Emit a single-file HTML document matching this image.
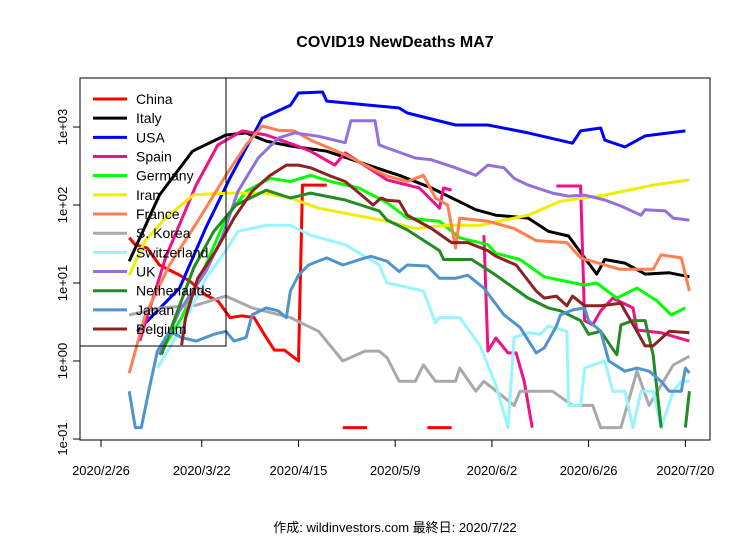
<!DOCTYPE html>
<html><head><meta charset="utf-8"><style>
body{margin:0;background:#fff;}
svg{display:block;font-family:"Liberation Sans","Noto Sans CJK JP",sans-serif;}
</style></head><body>
<svg id="chart" width="756" height="540" viewBox="0 0 756 540">
<rect width="756" height="540" fill="#fff"/>
<text x="395" y="47" text-anchor="middle" font-size="16" font-weight="bold">COVID19 NewDeaths MA7</text>
<text x="395" y="532" text-anchor="middle" font-size="13">作成: wildinvestors.com 最終日: 2020/7/22</text>
<g id="series"></g>
<rect x="80" y="78" width="630" height="362" fill="none" stroke="#000" stroke-width="1"/>
<g id="axes"></g>
<g id="legend"></g>
</svg>
<script>
const xTickLabels=["2020/2/26","2020/3/22","2020/4/15","2020/5/9","2020/6/2","2020/6/26","2020/7/20"];
const xTickDays=[0,25,49,73,97,121,145];
const yTickValues=[0.1,1,10,100,1000];
const yTickLabels=["1e-01","1e+00","1e+01","1e+02","1e+03"];
const seriesNames=["China","Italy","USA","Spain","Germany","Iran","France","S. Korea","Switzerland","UK","Netherlands","Japan","Belgium"];
const seriesColors=["#FF0000","#000000","#0000FF","#EE1289","#00FF00","#EEEE00","#FF7F50","#A9A9A9","#98F5FF","#9370DB","#228B22","#4F94CD","#8B2323"];
const chinaDays=[7,8.5,11.5,14.5,19,22,26,29,32,35,38,40.5,43,45.5,48,49,50,56,57,60,66,67,81,87];
const chinaVals=[38,31,28,17,13,10.6,7,5.9,3.6,3.8,3.6,2.2,1.38,1.38,1.1,1.0,180,180,null,0.14,0.14,null,0.14,0.14];
const italyDays=[7,14.5,22.7,31,36,41,47,56,71,74,82,93,98,106,111,116,120,123,125,130,135,141,146];
const italyVals=[19,134,490,790,840,660,570,490,270,240,165,87,74,68,46,40,21,13,20,18,13,13.5,12];
const usaDays=[9,19.5,26,32,40,47,49,55,56,74,76,88,96,106,117,119,124,125,130,135,145];
const usaVals=[2.4,8.6,51,222,1300,1900,2730,2810,2150,1750,1510,1060,1060,840,620,890,970,680,555,770,890];
const spainDays=[9.6,16,23.6,29,35,41,48,52,58,60.6,71,79,84,85,87,88,95,96,98,101,103,105,107,108,113,119,120,122,124,127,132,133,139,146];
const spainVals=[1.8,21,180,590,890,790,590,490,325,465,210,165,91,165,155,null,41,1.34,1.97,1.27,1.27,0.55,0.14,null,175,175,3.3,2.9,4.4,6.4,4.8,2.5,2.3,1.8];
const germanyDays=[14.5,20,26,31,36,42,47,52,57,64,71,76,84,89,96,98,104,110,120,123,128,133,138,141.5,145];
const germanyVals=[1.2,3.6,17,68,150,220,200,240,200,165,107,68,62,38,31,24,20,12,9.4,10,6.4,8.6,5.9,3.9,4.8];
const iranDays=[7,11,16,23,32,41,47,54,71,78,86,94,106,114,125,137,146];
const iranVals=[12.6,35,68,135,142,142,123,91,62,50,55,55,74,112,134,180,210];
const franceDays=[7,11,17,24,31,36,40,44,48,52,60.6,71,76,80,83,86,88,89,96,102.5,108,115.6,119,128.7,137,139,144,146];
const franceVals=[0.7,3.9,17,62,240,590,1030,910,890,680,440,235,200,240,123,100,28,68,62,50,35,33,21,15,15,23,21,7.9];
const koreaDays=[7,15,23.6,31,37.5,47,54,60,65.5,69,71,74,78,80,83,88,89,93,95,102.5,104,112,117,122,124,129,133,136,142,146];
const koreaVals=[3.9,4.8,5.2,6.8,4.8,3.6,2.4,1.0,1.34,1.34,1.1,0.55,0.55,0.89,0.55,0.55,0.81,0.41,0.55,0.27,0.41,0.41,0.27,0.27,0.14,0.14,0.74,0.27,0.89,1.15];
const swissDays=[14,19.5,26,31,34,41,47,52,60.6,69,71,74.5,80,83,84,89,94,98,101,102.5,106,109,111,115.6,116,119,120,125,127,130,132,134,137,139,142,144,146];
const swissVals=[0.81,2.4,11.5,26,46,55,55,41,31,17,10,9.2,7.9,3.1,3.6,3.6,1.6,0.49,0.14,2.0,2.3,2.2,2.8,2.4,0.27,0.27,0.81,1.0,0.41,0.41,0.14,0.41,0.41,0.14,0.41,0.55,0.55];
const ukDays=[14.5,19.5,26,30,34,39,44,48,54,60.6,62,68,69,71,78,82,88,93,96,100,102.5,106,112,116,120,125,129,134,135,140,142,146];
const ukVals=[1.2,4.4,14,38,150,400,720,840,760,630,1200,1200,590,540,400,380,300,240,325,300,220,180,142,130,134,116,97,74,87,84,68,64];
const nlDays=[15,19,23,28,33.5,41,47,52,60.6,69,71,76,84,85,92,97.6,102.5,106,111,114,119,121,124,128,129,132,135,137,139,140,145,146];
const nlVals=[1.2,4.4,15.6,46,100,155,123,142,116,84,64,48,26,20,20,13,8.6,6.4,4.8,4.4,3.3,2.2,2.4,1.2,2.9,3.3,3.3,1.2,0.14,null,0.14,0.41];
const japanDays=[7,8.5,10,12,14,17,20,23.6,28,31,33,36,37.5,41,44,46,47,49,51.5,56,60,65.5,67,71,74,76,81,84,88,91,95,100,104,108,110,113,114,117,120,121,124,126,130,133,136,139,141,144,145,146];
const japanVals=[0.41,0.14,0.14,0.45,1.34,2.4,2.0,1.8,2.2,2.4,1.8,2.0,3.9,4.8,4.4,3.6,7.9,12.6,17,21,17,21,22,19,14,17,16.5,11.5,11.5,12.6,8.6,3.9,2.7,1.27,1.47,2.8,3.9,4.5,4.8,3.3,2.4,1.0,0.74,0.81,0.74,0.55,0.41,0.41,0.81,0.70];
const belgiumDays=[20,21,24,28.5,33,37.5,42,46,49,52,57,60.6,65.5,67.5,69.5,71,74,76,82,87,91,96,98,103,108,110,113,115.6,117,120,124,129,130,133,135,137,141,146];
const belgiumVals=[1.6,3.6,11.5,26,68,150,240,325,325,300,235,200,123,100,123,115,112,74,50,33,33,26,22,17,7.9,6.4,6.8,5.1,6.8,5.1,5.1,5.5,4.4,2.4,1.56,1.56,2.4,2.3];
const allDays=[chinaDays,italyDays,usaDays,spainDays,germanyDays,iranDays,franceDays,koreaDays,swissDays,ukDays,nlDays,japanDays,belgiumDays];
const allVals=[chinaVals,italyVals,usaVals,spainVals,germanyVals,iranVals,franceVals,koreaVals,swissVals,ukVals,nlVals,japanVals,belgiumVals];

const NS="http://www.w3.org/2000/svg";
function xScale(d){return 101+d*4.03;}
function yScale(v){return 361-78*Math.log10(v);}
function mk(tag,attrs,parent){const e=document.createElementNS(NS,tag);for(const k in attrs)e.setAttribute(k,attrs[k]);parent.appendChild(e);return e;}

const sg=document.getElementById('series');
for(let i=0;i<seriesNames.length;i++){
  let d="",pen=false;
  const ds=allDays[i],vs=allVals[i];
  for(let j=0;j<ds.length;j++){
    if(vs[j]==null){pen=false;continue;}
    d+=(pen?"L":"M")+xScale(ds[j]).toFixed(1)+","+yScale(vs[j]).toFixed(1);
    pen=true;
  }
  const p=mk('path',{d:d,fill:"none",stroke:seriesColors[i],"stroke-width":3,"stroke-linejoin":"round"},sg);
  
  
}

const ag=document.getElementById('axes');
mk('line',{x1:xScale(xTickDays[0]),x2:xScale(xTickDays[xTickDays.length-1]),y1:440,y2:440,stroke:"#000"},ag);
for(let i=0;i<xTickDays.length;i++){
  const x=xScale(xTickDays[i]);
  const t=mk('line',{x1:x,x2:x,y1:440,y2:447,stroke:"#000"},ag);
  
  
  const l=mk('text',{x:x,y:475,"text-anchor":"middle","font-size":13},ag);
  l.textContent=xTickLabels[i];
  
  
}
for(let i=0;i<yTickValues.length;i++){
  const y=yScale(yTickValues[i]);
  const t=mk('line',{x1:73,x2:80,y1:y,y2:y,stroke:"#000"},ag);
  
  
  const l=mk('text',{x:67,y:y,"text-anchor":"middle","font-size":13,transform:"rotate(-90 67 "+y+")"},ag);
  l.textContent=yTickLabels[i];
  
  
}

const lg=document.getElementById('legend');
const box=mk('rect',{x:80,y:78,width:146,height:268,fill:"none",stroke:"#000"},lg);


for(let i=0;i<seriesNames.length;i++){
  const y=99+i*19.17;
  const ln=mk('line',{x1:93,x2:127,y1:y,y2:y,stroke:seriesColors[i],"stroke-width":3},lg);
  
  
  const tx=mk('text',{x:136,y:y+5,"font-size":14},lg);
  tx.textContent=seriesNames[i];
  
  
}
</script>
</body></html>
